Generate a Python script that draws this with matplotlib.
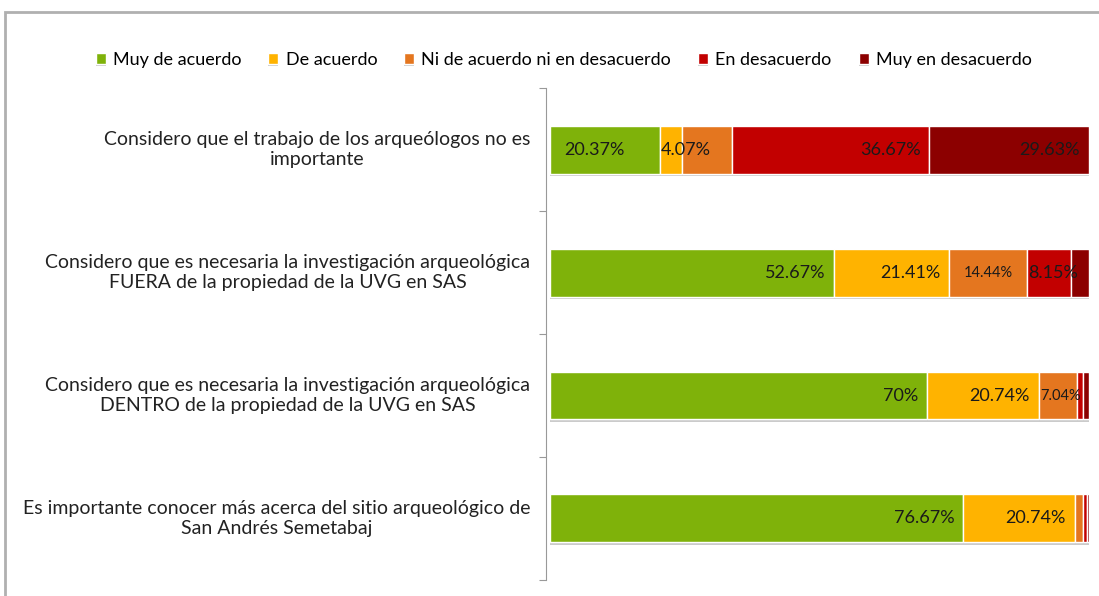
import matplotlib.pyplot as plt
import matplotlib.patheffects as pe
from matplotlib.patches import Rectangle

plt.rcParams['font.family'] = ['Lato', 'DejaVu Sans']

# Statements, top to bottom
preguntas = [
    "Considero que el trabajo de los arqueólogos no es\nimportante",
    "Considero que es necesaria la investigación arqueológica\nFUERA de la propiedad de la UVG en SAS",
    "Considero que es necesaria la investigación arqueológica\nDENTRO de la propiedad de la UVG en SAS",
    "Es importante conocer más acerca del sitio arqueológico de\nSan Andrés Semetabaj",
]
respuestas = ["Muy de acuerdo", "De acuerdo", "Ni de acuerdo ni en desacuerdo",
              "En desacuerdo", "Muy en desacuerdo"]
colores = ["#7FB20A", "#FFB300", "#E4761F", "#C20000", "#8C0000"]

# percentages per answer, one value per statement
muy_de_acuerdo = [20.37, 52.67, 70.00, 76.67]
de_acuerdo = [4.07, 21.41, 20.74, 20.74]
ni_ni = [9.26, 14.44, 7.04, 1.48]
en_desacuerdo = [36.67, 8.15, 1.11, 0.74]
muy_en_desacuerdo = [29.63, 3.33, 1.11, 0.37]

# text shown on each segment ('' = no label)
etiquetas = [
    ["20.37%", "4.07%", "", "36.67%", "29.63%"],
    ["52.67%", "21.41%", "14.44%", "8.15%", ""],
    ["70%", "20.74%", "7.04%", "", ""],
    ["76.67%", "20.74%", "", "", ""],
]

series = [muy_de_acuerdo, de_acuerdo, ni_ni, en_desacuerdo, muy_en_desacuerdo]

fig = plt.figure(figsize=(10.99, 5.96), dpi=100)
ax = fig.add_axes([0.5005, 0.027, 0.49, 0.825])

ypos = list(range(len(preguntas)))
izq = [0.0] * len(preguntas)
sombra = [pe.SimplePatchShadow(offset=(0, -2), shadow_rgbFace='#999999', alpha=0.5), pe.Normal()]
for k, (vals, col, nom) in enumerate(zip(series, colores, respuestas)):
    bars = ax.barh(ypos, vals, left=izq, height=0.39, color=col, edgecolor='white',
                   linewidth=1, label=nom)
    for b in bars:
        b.set_path_effects(sombra)
    for i, v in enumerate(vals):
        txt = etiquetas[i][k]
        if txt:
            fin = izq[i] + v
            size = 13
            # default: inside end
            x, ha = fin - 1.6, 'right'
            if (i, k) == (0, 0):
                x, ha = izq[i] + v / 2 - 2, 'center'
            elif (i, k) in [(0, 1), (1, 3), (2, 2)]:
                x, ha = izq[i] + 0.2, 'left'
                if (i, k) == (2, 2):
                    size = 10.5
            elif (i, k) == (1, 2):
                x, ha = izq[i] + v / 2, 'center'
                size = 10.5
            ax.text(x, i, txt, ha=ha, va='center', fontsize=size, color='#1a1a1a')
    izq = [a + b for a, b in zip(izq, vals)]

ax.set_xlim(0, 100)
ax.set_ylim(3.5, -0.5)
ax.set_xticks([])
ax.set_yticks([-0.5, 0.5, 1.5, 2.5, 3.5])
ax.set_yticklabels([])
ax.tick_params(axis='y', length=5, color='#999999', direction='out')
for s in ['top', 'right', 'bottom']:
    ax.spines[s].set_visible(False)
ax.spines['left'].set_color('#999999')
ax.spines['left'].set_position(('outward', 3))

# statement labels: right-aligned block, lines centred
for i, q in enumerate(preguntas):
    ax.text(-0.037, i, q, transform=ax.get_yaxis_transform(), ha='right', va='center',
            multialignment='center', fontsize=14, color='#222222', linespacing=1.2)

fig.legend(*ax.get_legend_handles_labels(), loc='center', bbox_to_anchor=(0.513, 0.9),
           ncol=5, frameon=False, fontsize=13, handlelength=0.55, handleheight=0.55,
           handletextpad=0.4, columnspacing=1.5)

# outer chart frame
fig.add_artist(Rectangle((0.005, -0.1), 1.1, 1.08, transform=fig.transFigure,
                         fill=False, edgecolor='#b0b0b0', linewidth=2))

fig.savefig('out.png', dpi=100)
